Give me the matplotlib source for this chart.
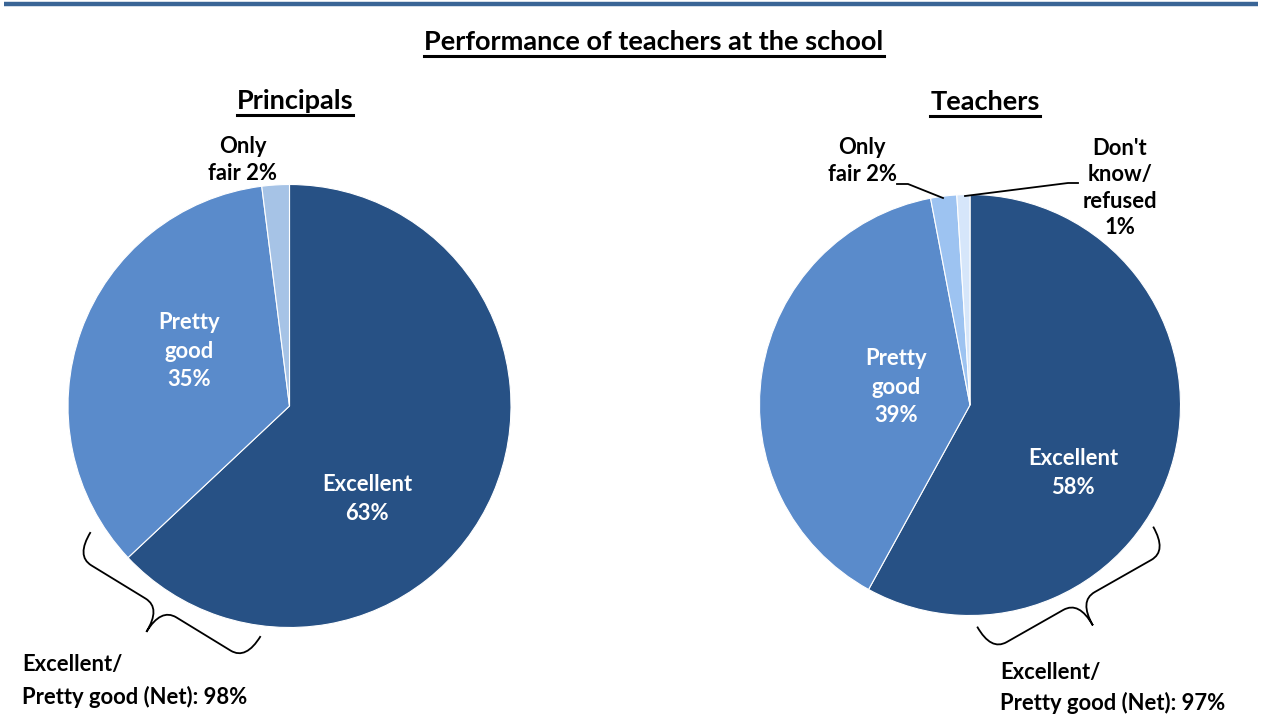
import numpy as np
import matplotlib.pyplot as plt
from matplotlib.path import Path
from matplotlib.patches import PathPatch

plt.rcParams['font.family'] = ['Lato', 'DejaVu Sans']
plt.rcParams['font.weight'] = 'bold'

W, H = 1262, 727

# data
principal_labels = ['Excellent', 'Pretty good', 'Only fair']
principal_values = [63, 35, 2]
principal_colors = ['#275185', '#5A8BCB', '#A6C3E6']

teacher_labels = ['Excellent', 'Pretty good', 'Only fair', "Don't know/refused"]
teacher_values = [58, 39, 2, 1]
teacher_colors = ['#275185', '#5A8BCB', '#9DC3F1', '#D6E6FA']

principal_net = 98
teacher_net = 97

fig = plt.figure(figsize=(W / 100, H / 100), dpi=100)


def pie_axes(cx, cy, r):
    return fig.add_axes([(cx - r) / W, 1 - (cy + r) / H, 2 * r / W, 2 * r / H])


def draw_pie(ax, vals, cols):
    ax.pie(vals, colors=cols, startangle=90, counterclock=False, radius=1,
           wedgeprops=dict(edgecolor='white', linewidth=0.8))
    ax.set_xlim(-1, 1)
    ax.set_ylim(-1, 1)
    ax.axis('off')


ax1 = pie_axes(289.5, 406, 221.5)
draw_pie(ax1, principal_values, principal_colors)
ax2 = pie_axes(970, 405, 210.5)
draw_pie(ax2, teacher_values, teacher_colors)

# overlay for text and annotations, in image pixels
ov = fig.add_axes([0, 0, 1, 1])
ov.set_zorder(10)
ov.set_xlim(0, W)
ov.set_ylim(H, 0)
ov.axis('off')

# top rule
ov.plot([4, 1258], [3.5, 3.5], color='#3A6596', lw=3.2, solid_capstyle='butt')


def underlined(x, y, s, size):
    t = ov.text(x, y, s, ha='center', va='center', fontsize=size,
                fontweight='bold', color='black')
    fig.canvas.draw()
    bb = t.get_window_extent()
    yl = H - bb.y0 + 1.5
    ov.plot([bb.x0, bb.x1], [yl, yl], color='black', lw=2.2)


underlined(654, 42, 'Performance of teachers at the school', 19.5)
underlined(295, 101, 'Principals', 19.5)
underlined(985, 102, 'Teachers', 19.5)

fs = 15.8


def lab(x, y, s, c='black', ls=1.3, ha='center'):
    ov.text(x, y, s, ha=ha, va='center', fontsize=fs, fontweight='bold',
            color=c, linespacing=ls, multialignment=ha)


# principals labels
lab(243, 160, 'Only\nfair %d%%' % principal_values[2])
lab(189, 351, 'Pretty\ngood\n%d%%' % principal_values[1], c='white', ls=1.45)
lab(367, 499, 'Excellent\n%d%%' % principal_values[0], c='white', ls=1.45)

# teachers labels
lab(862, 161, 'Only\nfair %d%%' % teacher_values[2])
lab(1120, 188, "Don't\nknow/\nrefused\n%d%%" % teacher_values[3])
lab(896, 387, 'Pretty\ngood\n%d%%' % teacher_values[1], c='white', ls=1.45)
lab(1073, 473, 'Excellent\n%d%%' % teacher_values[0], c='white', ls=1.45)

# leader lines
ov.plot([897, 908, 943], [184, 184, 198], color='black', lw=1.3)
ov.plot([965, 1068, 1078], [196, 183, 183], color='black', lw=1.3)


def brace(a, b, h, d, r):
    a = np.array(a, float)
    b = np.array(b, float)
    L = np.hypot(*(b - a))
    e = (b - a) / L
    n = np.array([-e[1], e[0]])
    pts = [(0, -h), (0, 0), (r, 0), (L / 2 - r, 0), (L / 2, 0), (L / 2, d),
           (L / 2, 0), (L / 2 + r, 0), (L - r, 0), (L, 0), (L, -h)]
    codes = [Path.MOVETO, Path.CURVE3, Path.CURVE3, Path.LINETO, Path.CURVE3,
             Path.CURVE3, Path.CURVE3, Path.CURVE3, Path.LINETO, Path.CURVE3,
             Path.CURVE3]
    xy = [a + u * e + v * n for u, v in pts]
    ov.add_patch(PathPatch(Path(xy, codes), fill=False, lw=1.3, color='black'))


brace((76, 556), (246, 660), 28, 28, 18)
brace((991, 651), (1167, 551), 28, 28, 18)

ov.text(22, 665, 'Excellent/', ha='left', va='center', fontsize=fs, fontweight='bold')
ov.text(22, 697, 'Pretty good (Net): %d%%' % principal_net, ha='left', va='center',
        fontsize=fs, fontweight='bold')
ov.text(1000, 672, 'Excellent/', ha='left', va='center', fontsize=fs, fontweight='bold')
ov.text(1000, 703, 'Pretty good (Net): %d%%' % teacher_net, ha='left', va='center',
        fontsize=fs, fontweight='bold')

fig.savefig('out.png', dpi=100)
